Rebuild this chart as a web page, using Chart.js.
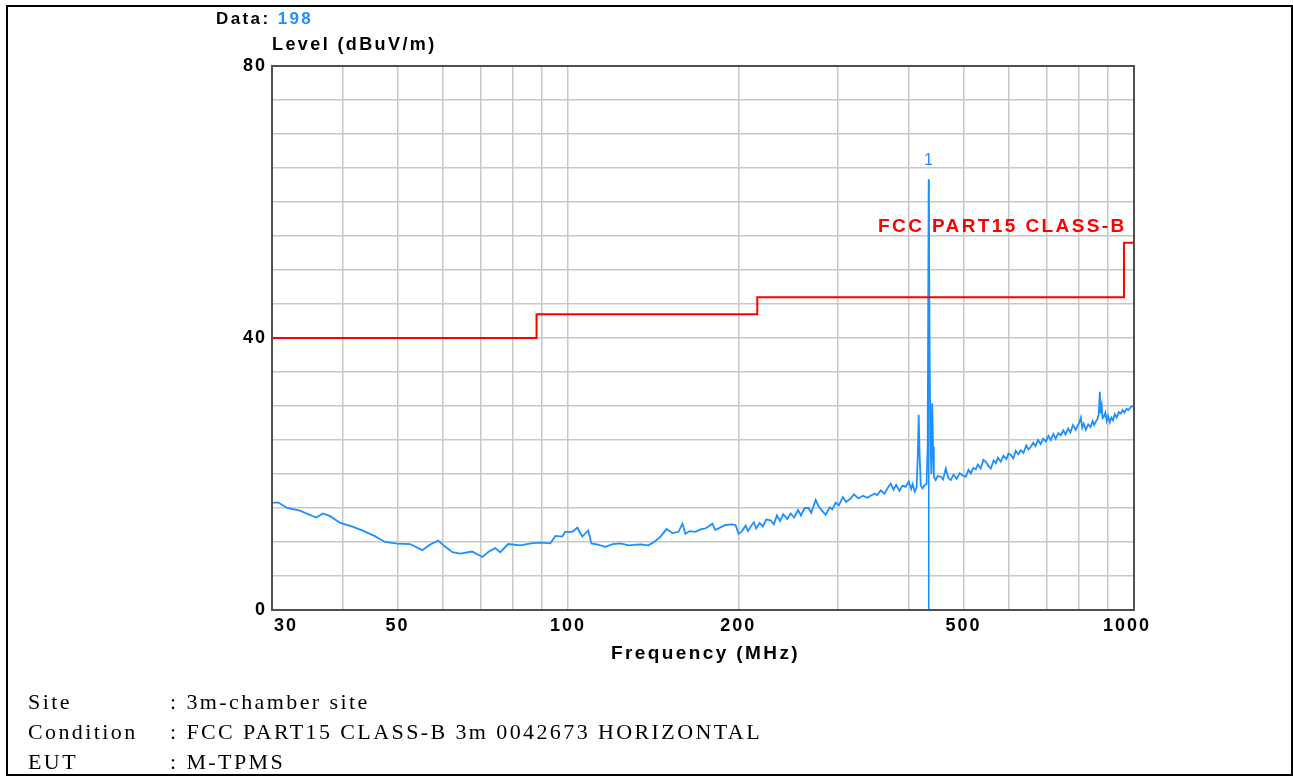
<!DOCTYPE html>
<html>
<head>
<meta charset="utf-8">
<script src="https://cdn.jsdelivr.net/npm/chart.js@4"></script>
<style>
  html, body { margin: 0; padding: 0; background: #fff; }
  #wrap { position: relative; width: 1293px; height: 776px; overflow: hidden; }
  #frame { position: absolute; left: 6px; top: 5px; width: 1283px; height: 767px; border: 2px solid #000; }
  canvas { position: absolute; left: 0; top: 0; }
  .t { position: absolute; font-family: "Liberation Sans", Arial, sans-serif; font-weight: bold; white-space: nowrap; color: #000; letter-spacing: 2.4px; }
  .s { position: absolute; font-family: "Liberation Serif", "Times New Roman", serif; font-size: 22px; white-space: nowrap; color: #000; letter-spacing: 2.4px; }
</style>
</head>
<body>
<div id="wrap">
  <div id="frame"></div>
  <canvas id="c" width="1293" height="776"></canvas>
  <div class="t" style="left:216px; top:9px; font-size:17px;">Data: <span style="color:#1e8fff">198</span></div>
  <div class="t" style="left:272px; top:34px; font-size:18px;">Level (dBuV/m)</div>
  <div class="t" style="left:611px; top:642px; font-size:19px;">Frequency (MHz)</div>
  <div class="t" style="left:878px; top:215px; font-size:19px; color:#ff0000;">FCC PART15 CLASS-B</div>
  <div class="t" style="left:924px; top:151px; font-size:16px; font-weight:normal; color:#1e8fff;">1</div>
  <div class="s" style="left:28px; top:689px;">Site</div>
  <div class="s" style="left:170px; top:689px;">: 3m-chamber site</div>
  <div class="s" style="left:28px; top:719px;">Condition</div>
  <div class="s" style="left:170px; top:719px;">: FCC PART15 CLASS-B 3m 0042673 HORIZONTAL</div>
  <div class="s" style="left:28px; top:749px;">EUT</div>
  <div class="s" style="left:170px; top:749px;">: M-TPMS</div>
</div>
<script>
// ---- data ----
const freqMHz = [30,30.8,31.9,33.6,35.9,36.9,38.0,39.6,41.5,43.3,45.5,47.5,49.9,52.6,55.3,57.0,59.0,60.5,62.5,64.5,67.7,70.6,72.5,74.4,75.9,78.4,82.4,86.0,89.4,93.1,95.0,97.7,98.9,101.8,103.9,106.0,108.6,110.0,113.0,116.4,120.0,123.8,128.0,134.3,138.7,142.0,145.7,149.3,153.0,156.8,159.3,161.3,164.0,168.0,172.0,175.0,180.0,182.0,184.5,189.8,195.0,197.7,200.2,203.0,206.0,208.0,210.2,213.0,215.0,218.0,221.0,224.0,228.0,231.0,234.0,237.0,240.0,244.0,247.4,251.0,255.0,258.0,262.0,266.1,269.0,273.9,277.0,281.0,285.3,290.0,293.0,297.1,301.0,306.0,310.0,315.8,320.0,326.0,332.0,338.0,342.6,348.0,352.0,357.0,362.0,367.0,371.7,376.0,380.0,385.0,390.0,395.1,400.0,404.0,406.4,410.0,413.0,415.0,416.5,418.0,420.0,423.0,427.0,430.0,432.0,433.9,435.5,437.0,438.5,440.0,441.5,443.0,446.4,450.0,455.7,460.0,465.0,470.0,474.6,480.0,486.0,492.0,498.0,504.5,510.0,515.0,520.0,525.4,530.0,536.0,542.0,547.3,553.0,558.5,565.0,570.0,575.0,581.7,588.0,595.0,600.0,605.9,612.0,618.0,625.0,631.1,638.0,645.0,651.0,657.3,664.0,670.0,677.0,684.0,691.0,698.6,706.0,713.0,720.0,727.0,735.0,742.6,750.0,757.0,765.0,772.0,780.0,789.3,795.0,800.0,805.6,810.0,815.0,822.1,830.0,838.0,845.0,850.0,856.3,862.0,866.0,870.4,873.0,877.0,880.0,884.6,890.0,895.0,900.0,906.0,912.0,917.8,925.0,932.0,940.0,948.2,955.0,962.0,970.0,978.0,987.7,1000];
const levelDb = [15.8,15.8,15.0,14.6,13.6,14.2,13.8,12.8,12.3,11.7,10.9,10.0,9.75,9.7,8.8,9.6,10.2,9.4,8.5,8.3,8.6,7.8,8.6,9.1,8.5,9.7,9.5,9.8,9.9,9.8,10.9,10.8,11.5,11.5,12.1,10.8,11.7,9.8,9.6,9.3,9.7,9.8,9.5,9.65,9.5,10.0,10.8,11.9,11.3,11.5,12.7,11.2,11.6,11.5,11.9,12.0,12.7,11.8,12.0,12.5,12.6,12.5,11.2,11.6,12.4,11.6,12.25,12.9,12.0,12.8,12.3,13.3,13.2,12.6,13.9,13.1,14.1,13.4,14.2,13.6,14.7,13.9,15.0,15.0,14.3,16.2,15.3,14.6,14.0,15.1,14.8,15.8,15.4,16.6,15.9,16.4,17.0,16.4,16.8,16.5,16.8,17.1,16.9,17.6,17.1,17.9,18.6,17.7,18.4,17.5,18.3,18.1,18.9,17.8,18.5,17.4,18.0,22.8,28.7,23.0,18.3,17.9,18.4,18.5,24.0,63.3,37.0,24.8,20.0,30.4,24.0,19.6,19.1,19.7,19.6,19.2,20.8,19.4,19.1,19.9,19.3,20.1,19.8,19.6,20.6,20.1,20.9,20.7,21.4,20.8,22.1,21.8,21.2,20.8,22.0,21.6,22.4,21.8,22.7,22.2,23.0,22.8,22.3,23.4,22.9,23.5,23.1,24.2,23.6,24.0,24.6,24.1,25.0,24.4,25.2,24.8,25.6,25.0,25.9,25.2,26.0,25.7,26.4,25.8,26.7,26.1,27.2,26.5,27.1,27.5,28.3,26.8,27.4,26.5,27.3,26.9,27.8,27.2,27.7,28.1,28.7,32.1,28.9,30.0,28.2,28.4,29.0,27.8,28.5,27.6,28.3,27.9,28.8,28.3,29.1,28.9,29.4,29.0,29.6,29.4,29.9,30.0];
const limitFreq = [30, 88, 88, 216, 216, 960, 960, 1000];
const limitLevel = [40, 40, 43.5, 43.5, 46, 46, 54, 54];
const markerFreq = [433.9, 433.9];
const markerLevel = [0, 63.3];
const xGridValues = [30,40,50,60,70,80,90,100,200,300,400,500,600,700,800,900,1000];
const xTickLabels = [30, 50, 100, 200, 500, 1000];
const yTickLabels = [0, 40, 80];

const pts = (xs, ys) => xs.map((x, i) => ({ x: x, y: ys[i] }));
const BLUE = '#1e8fff';

const spacing = {
  id: 'spacing',
  beforeDraw(chart) { try { chart.ctx.letterSpacing = '2px'; } catch (e) {} },
  afterDraw(chart) {
    const a = chart.chartArea, ctx = chart.ctx;
    ctx.save();
    ctx.strokeStyle = '#505050';
    ctx.lineWidth = 2;
    ctx.strokeRect(a.left, a.top, a.right - a.left, a.bottom - a.top);
    ctx.restore();
  }
};

// edge labels are nudged inward like the original (padding with spaces)
const xLabel = (v) => {
  if (!xTickLabels.includes(v)) return '';
  if (v === 30) return '    ' + v;
  if (v === 1000) return v + '  ';
  return String(v);
};

new Chart(document.getElementById('c'), {
  type: 'line',
  data: {
    datasets: [
      { data: pts(limitFreq, limitLevel), borderColor: '#ff0000', borderWidth: 2, pointRadius: 0, tension: 0, fill: false },
      { data: pts(markerFreq, markerLevel), borderColor: BLUE, borderWidth: 1.6, pointRadius: 0, tension: 0, fill: false },
      { data: pts(freqMHz, levelDb), borderColor: BLUE, borderWidth: 1.8, pointRadius: 0, tension: 0, fill: false }
    ]
  },
  options: {
    responsive: false,
    animation: false,
    events: [],
    layout: { padding: { left: 0, top: 66, right: 159, bottom: 0 } },
    plugins: { legend: { display: false }, tooltip: { enabled: false } },
    scales: {
      x: {
        type: 'logarithmic', min: 30, max: 1000,
        afterBuildTicks: (s) => { s.ticks = xGridValues.map(v => ({ value: v })); },
        afterFit: (s) => { s.height = 166; },
        grid: { color: '#c8c8c8', lineWidth: 1.5, drawTicks: false },
        border: { display: false },
        ticks: {
          autoSkip: false, maxRotation: 0, padding: 5, color: '#000',
          font: { family: '"Liberation Sans", Arial, sans-serif', size: 18, weight: 'bold' },
          callback: xLabel
        }
      },
      y: {
        min: 0, max: 80,
        afterFit: (s) => { s.width = 272; },
        grid: { color: '#c8c8c8', lineWidth: 1.5, drawTicks: false },
        border: { display: false },
        ticks: {
          stepSize: 5, autoSkip: false, padding: 5, color: '#000',
          font: { family: '"Liberation Sans", Arial, sans-serif', size: 18, weight: 'bold' },
          callback: (v) => yTickLabels.includes(v) ? String(v) : ''
        }
      }
    }
  },
  plugins: [spacing]
});
</script>
</body>
</html>
